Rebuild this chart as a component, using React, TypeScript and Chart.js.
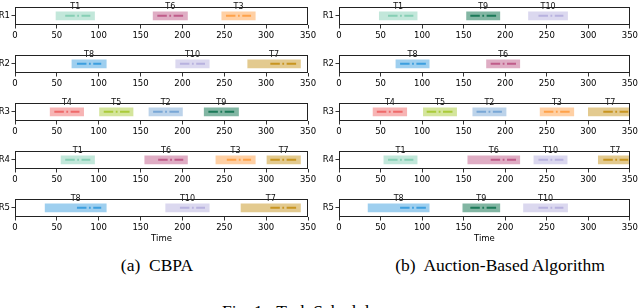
import React, { useEffect, useRef } from 'react';
import { Chart, registerables } from 'chart.js';
Chart.register(...registerables);
Chart.defaults.font.family = "'DejaVu Sans', sans-serif";

const robots = ['R1', 'R2', 'R3', 'R4', 'R5'];
const xTicks = [0, 50, 100, 150, 200, 250, 300, 350];

// (a) CBPA
const cbpaTasks = [['T1', 'T6', 'T3'], ['T8', 'T10', 'T7'], ['T4', 'T5', 'T2', 'T9'], ['T1', 'T6', 'T3', 'T7'], ['T8', 'T10', 'T7']];
const cbpaStart = [[49, 165, 247], [68, 192, 278], [42, 101, 160, 226], [55, 155, 240, 301], [36, 180, 270]];
const cbpaEnd = [[95, 206, 287], [109, 232, 341], [82, 141, 200, 267], [95, 206, 287, 341], [109, 232, 341]];
const cbpaExecStart = [[60, 170, 252], [74, 197, 305], [47, 106, 165, 231], [60, 171, 253, 305], [74, 197, 305]];
const cbpaExecEnd = [[90, 201, 282], [103, 227, 336], [77, 137, 196, 262], [90, 201, 282, 336], [103, 227, 336]];

// (b) Auction-Based Algorithm
const aucTasks = [['T1', 'T9', 'T10'], ['T8', 'T6'], ['T4', 'T5', 'T2', 'T3', 'T7'], ['T1', 'T6', 'T10', 'T7'], ['T8', 'T9', 'T10']];
const aucStart = [[48.5, 153.5, 228], [68.5, 177.5], [41, 101.5, 161, 242, 300], [54, 155, 234.5, 312], [35, 149, 222]];
const aucEnd = [[94, 193.5, 275], [108.5, 217.5], [81.5, 141.5, 201, 282.5, 353], [94, 217.5, 274.5, 353], [108.5, 193.5, 275]];
const aucExecStart = [[59, 158, 240], [73.5, 182.5], [45.5, 105.5, 165.5, 246.5, 318], [59, 182.5, 240, 318], [73.5, 158, 240]];
const aucExecEnd = [[89.5, 190, 270], [104.5, 213], [76.5, 137.5, 196, 278, 348], [89.5, 213, 270, 348], [104.5, 190, 270]];

const taskColors: Record<string, string> = {
  T1: '#86cfb5', T2: '#79a7d6', T3: '#ffa24a', T4: '#ef6a6a', T5: '#aacb3a',
  T6: '#c05c8a', T7: '#c89520', T8: '#3d9fdf', T9: '#1b7a58', T10: '#b8b2df',
};
const barAlpha: Record<string, number> = { T9: 0.55 };

function rgba(hex: string, a: number) {
  const n = parseInt(hex.slice(1), 16);
  return `rgba(${(n >> 16) & 255},${(n >> 8) & 255},${n & 255},${a})`;
}

const BOX_H = 24;
const AX = 16;
const AX_LAST = 29;
const PAD_TOP = 1;
const ROW_TOPS = [1, 49, 97, 145, 193];

const boxPlugin = {
  id: 'box',
  afterDraw(chart: any) {
    const { ctx, chartArea } = chart;
    const { left, top, right, bottom } = chartArea;
    ctx.save();
    ctx.strokeStyle = '#222';
    ctx.lineWidth = 1;
    ctx.strokeRect(Math.round(left) + 0.5, Math.round(top) + 0.5, Math.round(right - left) - 1, Math.round(bottom - top) - 1);
    ctx.restore();
  },
};

const labelPlugin = {
  id: 'taskLabels',
  afterDatasetsDraw(chart: any) {
    const { ctx } = chart;
    ctx.save();
    ctx.font = "8px 'DejaVu Sans'";
    ctx.fillStyle = '#111';
    ctx.textAlign = 'center';
    ctx.textBaseline = 'bottom';
    chart.data.datasets.forEach((ds: any, i: number) => {
      if (ds.type !== 'bar') return;
      const el = chart.getDatasetMeta(i).data[0];
      if (!el) return;
      const p = el.getProps(['x', 'base', 'y', 'height'], true);
      const cx = (p.x + p.base) / 2;
      const top = p.y - p.height / 2;
      ctx.fillText(ds.label, cx, top - 0.5);
    });
    ctx.restore();
  },
};

type RowProps = {
  left: number; top: number; width: number; yWidth: number; rightPad: number;
  robot: string; tasks: string[]; starts: number[]; ends: number[];
  execStarts: number[]; execEnds: number[]; showTitle: boolean;
};

function RowChart(props: RowProps) {
  const { left, top, width, yWidth, rightPad, robot, tasks, starts, ends, execStarts, execEnds, showTitle } = props;
  const ref = useRef<HTMLCanvasElement>(null);
  const ax = showTitle ? AX_LAST : AX;
  const height = PAD_TOP + BOX_H + ax;
  useEffect(() => {
    const canvas = ref.current!;
    const datasets: any[] = [];
    tasks.forEach((t, i) => {
      datasets.push({
        type: 'bar', label: t, data: [[starts[i], ends[i]]],
        backgroundColor: rgba(taskColors[t], barAlpha[t] ?? 0.5),
        borderWidth: 0, barThickness: 8, grouped: false, order: 2,
      });
    });
    tasks.forEach((t, i) => {
      datasets.push({
        type: 'line', label: t + ' exec',
        data: [{ x: execStarts[i], y: robot }, { x: execEnds[i], y: robot }],
        borderColor: taskColors[t], borderWidth: 2, borderDash: [9.5, 2.5, 1.8, 2.5],
        borderCapStyle: 'butt', pointRadius: 0, order: 1, fill: false, tension: 0,
      });
    });
    const chart = new Chart(canvas, {
      type: 'bar',
      data: { labels: [robot], datasets },
      options: {
        animation: false,
        responsive: false,
        indexAxis: 'y',
        layout: { padding: { top: PAD_TOP, right: rightPad, left: 0, bottom: 0 } },
        plugins: { legend: { display: false }, tooltip: { enabled: false } },
        scales: {
          x: {
            type: 'linear', min: 0, max: 350,
            afterBuildTicks: (s: any) => { s.ticks = xTicks.map((v) => ({ value: v })); },
            afterFit: (s: any) => { s.height = ax; },
            ticks: { autoSkip: false, maxRotation: 0, padding: 2, color: '#000', font: { size: 8.5 } },
            grid: { drawOnChartArea: false, tickLength: 3.5, color: '#000', lineWidth: 0.8 },
            border: { display: false },
            title: { display: showTitle, text: 'Time', color: '#000', font: { size: 8.5 }, padding: { top: 0, bottom: 2 } },
          },
          y: {
            type: 'category',
            afterFit: (s: any) => { s.width = yWidth; },
            ticks: { padding: 1.5, color: '#000', font: { size: 8.5 } },
            grid: { drawOnChartArea: false, tickLength: 3.5, color: '#000', lineWidth: 0.8, offset: false },
            border: { display: false },
          },
        },
      } as any,
      plugins: [boxPlugin, labelPlugin],
    });
    return () => chart.destroy();
  }, []);
  return (
    <canvas
      ref={ref}
      width={width}
      height={height}
      style={{ position: 'absolute', left, top: top - PAD_TOP, width, height }}
    />
  );
}

function Panel({ left, yWidth, rightPad, tasks, starts, ends, execStarts, execEnds }: any) {
  return (
    <>
      {robots.map((r, i) => (
        <RowChart
          key={r}
          left={left}
          top={ROW_TOPS[i]}
          width={320}
          yWidth={yWidth}
          rightPad={rightPad}
          robot={r}
          tasks={tasks[i]}
          starts={starts[i]}
          ends={ends[i]}
          execStarts={execStarts[i]}
          execEnds={execEnds[i]}
          showTitle={i === robots.length - 1}
        />
      ))}
    </>
  );
}

const serif = "'Liberation Serif', 'Times New Roman', serif";

export default function App() {
  return (
    <div style={{ position: 'fixed', left: 0, top: 0, width: 640, height: 308, overflow: 'hidden', background: '#fff' }}>
      <Panel left={0} yWidth={15} rightPad={12} tasks={cbpaTasks} starts={cbpaStart} ends={cbpaEnd} execStarts={cbpaExecStart} execEnds={cbpaExecEnd} />
      <Panel left={320} yWidth={19} rightPad={10} tasks={aucTasks} starts={aucStart} ends={aucEnd} execStarts={aucExecStart} execEnds={aucExecEnd} />
      <div style={{ position: 'absolute', left: 0, width: 314, top: 257, textAlign: 'center', font: `17.5px/1 ${serif}`, color: '#000', whiteSpace: 'pre' }}>
        (a)  CBPA
      </div>
      <div style={{ position: 'absolute', left: 340, width: 320, top: 257, textAlign: 'center', font: `17.5px/1 ${serif}`, color: '#000', whiteSpace: 'pre' }}>
        (b)  Auction-Based Algorithm
      </div>
      <div style={{ position: 'absolute', left: 222, top: 302.5, font: `17.5px/1 ${serif}`, color: '#000', whiteSpace: 'pre' }}>
        Fig. 1:  Task Schedule
      </div>
    </div>
  );
}
